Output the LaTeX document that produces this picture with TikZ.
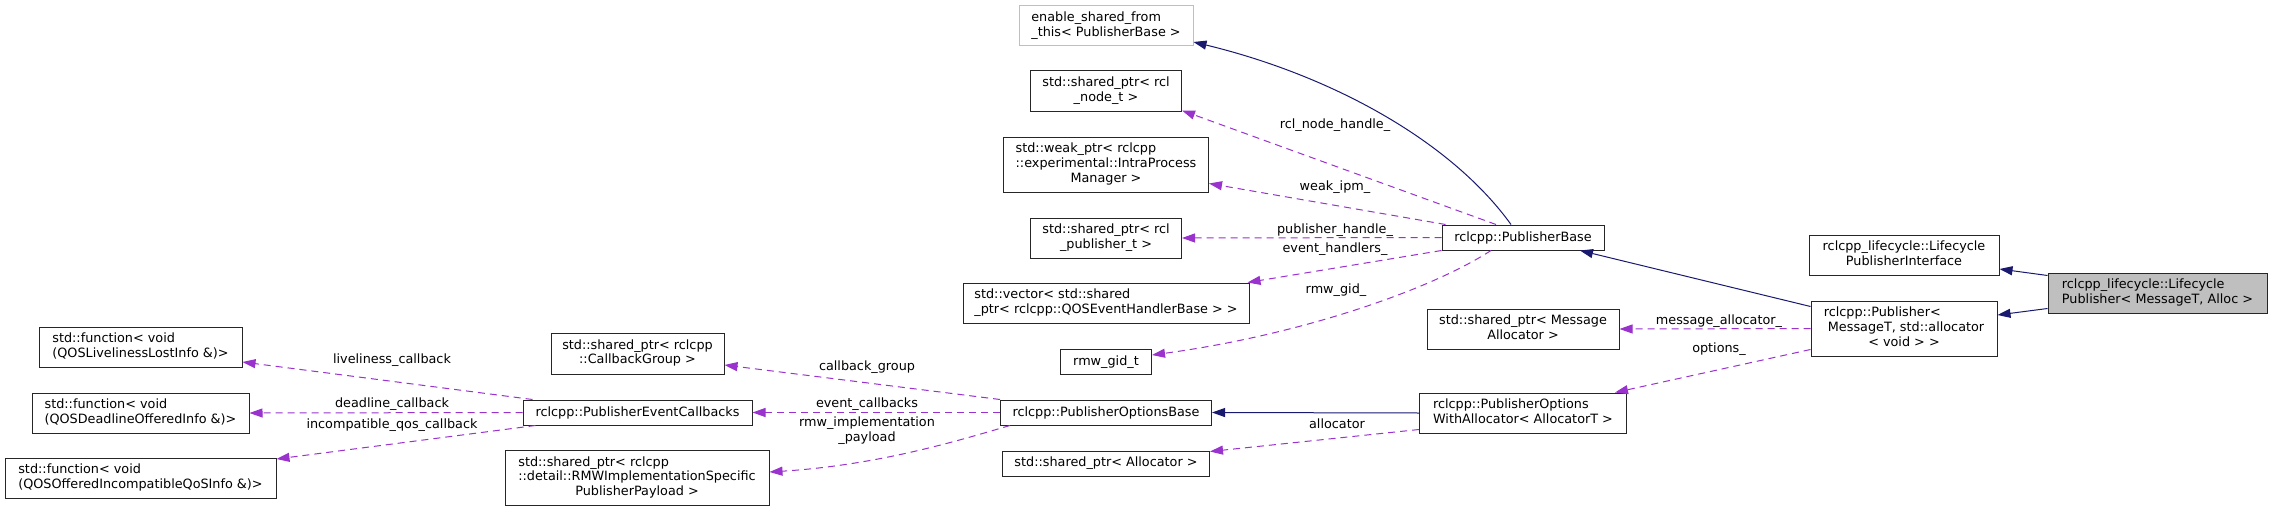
\documentclass[tikz,border=0pt]{standalone}
\usepackage{fontspec}
\setmainfont{DejaVu Sans}
\usetikzlibrary{arrows.meta}
\definecolor{inh}{HTML}{191970}
\definecolor{use}{HTML}{9A32CD}
\definecolor{gry}{HTML}{BFBFBF}
\newcommand{\twol}[2]{\begin{tabular}{@{}l@{}}#1\\\multicolumn{1}{@{}c@{}}{#2}\end{tabular}}
\newcommand{\threel}[3]{\begin{tabular}{@{}l@{}}#1\\#2\\\multicolumn{1}{@{}c@{}}{#3}\end{tabular}}
\newcommand{\twoc}[2]{\begin{tabular}{@{}c@{}}#1\\#2\end{tabular}}
\tikzset{
  box/.style={draw=black!85, line width=1pt, fill=white, inner sep=0pt, rectangle,
    font=\fontsize{12.8}{14.6}\selectfont, text=black},
  lbl/.style={inner sep=0pt, font=\fontsize{12.8}{14.6}\selectfont, text=black},
  inhedge/.style={draw=inh, line width=1pt, -{Triangle[length=13pt,width=9pt]}},
  useedge/.style={draw=use, line width=1pt, dash pattern=on 7pt off 5pt,
    -{Triangle[length=13pt,width=9pt,fill=use]}},
}
\begin{document}
\begin{tikzpicture}[x=1pt,y=-1pt]
\useasboundingbox (0,0) rectangle (2272,511);
% column D
\node[box, draw=gry, minimum width=174pt, minimum height=40pt] (enable) at (1106,26) {\twol{enable\_shared\_from}{\_this< PublisherBase >}};
\node[box, minimum width=151pt, minimum height=40pt] (rclnode) at (1106,91) {\twol{std::shared\_ptr< rcl}{\_node\_t >}};
\node[box, minimum width=205pt, minimum height=55pt] (weak) at (1106,164.5) {\threel{std::weak\_ptr< rclcpp}{::experimental::IntraProcess}{Manager >}};
\node[box, minimum width=151pt, minimum height=40pt] (rclpub) at (1106,238) {\twol{std::shared\_ptr< rcl}{\_publisher\_t >}};
\node[box, minimum width=286pt, minimum height=40pt] (vec) at (1106,303) {\twol{std::vector< std::shared}{\_ptr< rclcpp::QOSEventHandlerBase > >}};
\node[box, minimum width=91pt, minimum height=25pt] (gid) at (1106,362) {rmw\_gid\_t};
\node[box, minimum width=211pt, minimum height=25pt] (pob) at (1106,412.5) {rclcpp::PublisherOptionsBase};
\node[box, minimum width=207pt, minimum height=25pt] (alloc) at (1106,463.5) {std::shared\_ptr< Allocator >};
% column C
\node[box, minimum width=162pt, minimum height=25pt] (pb) at (1523,237.5) {rclcpp::PublisherBase};
\node[box, minimum width=192pt, minimum height=40pt] (msgalloc) at (1523,329) {\twol{std::shared\_ptr< Message}{Allocator >}};
\node[box, minimum width=207pt, minimum height=40pt] (pow) at (1523,413) {\twol{rclcpp::PublisherOptions}{WithAllocator< AllocatorT >}};
% column B
\node[box, minimum width=190pt, minimum height=40pt] (lpi) at (1904,255) {\twol{rclcpp\_lifecycle::Lifecycle}{PublisherInterface}};
\node[box, minimum width=186pt, minimum height=55pt] (pub) at (1904,328.5) {\threel{rclcpp::Publisher<}{\ MessageT, std::allocator}{< void > >}};
% column A
\node[box, fill=gry, minimum width=219pt, minimum height=40pt] (lp) at (2157.5,293) {\twol{rclcpp\_lifecycle::Lifecycle}{Publisher< MessageT, Alloc >}};
% column E
\node[box, minimum width=173pt, minimum height=41pt] (cbg) at (637.5,353.5) {\twol{std::shared\_ptr< rclcpp}{::CallbackGroup >}};
\node[box, minimum width=229pt, minimum height=25pt] (pec) at (637.5,412.5) {rclcpp::PublisherEventCallbacks};
\node[box, minimum width=264pt, minimum height=55pt] (payload) at (637,478) {\threel{std::shared\_ptr< rclcpp}{::detail::RMWImplementationSpecific}{PublisherPayload >}};
% column F
\node[box, minimum width=203pt, minimum height=40pt] (fliv) at (140.5,347) {\twol{std::function< void}{(QOSLivelinessLostInfo \&)>}};
\node[box, minimum width=217pt, minimum height=40pt] (fdead) at (140.5,413) {\twol{std::function< void}{(QOSDeadlineOfferedInfo \&)>}};
\node[box, minimum width=271pt, minimum height=40pt] (fincomp) at (140.5,478) {\twol{std::function< void}{(QOSOfferedIncompatibleQoSInfo \&)>}};
% edges
\draw[inhedge] ([yshift=-3pt]lp.north west) -- ([yshift=-14pt]lpi.east);
\draw[inhedge] ([yshift=5pt]lp.south west) -- ([yshift=13.5pt]pub.east);
\draw[inhedge] ([yshift=-6pt]pub.north west) -- ([xshift=57pt]pb.south);
\draw[useedge] (pub.west) -- (msgalloc.east);
\draw[useedge] ([yshift=7pt]pub.south west) -- ([xshift=92pt]pow.north);
\draw[inhedge] ([xshift=-12pt]pb.north) .. controls (1450,140) and (1330,75) .. ([yshift=-16pt]enable.east);
\draw[useedge] ([xshift=-27pt]pb.north) -- ([yshift=1pt]rclnode.south east);
\draw[useedge] ([xshift=4pt]pb.north west) -- ([yshift=9pt]weak.south east);
\draw[useedge] (pb.west) -- (rclpub.east);
\draw[useedge] (pb.south west) -- ([xshift=-2pt]vec.north east);
\draw[useedge] ([xshift=-32pt]pb.south) .. controls (1430,290) and (1300,335) .. ([yshift=7pt]gid.east);
\draw[inhedge] (pow.west) -- (pob.east);
\draw[useedge] ([yshift=4pt]pow.south west) -- ([yshift=-1pt]alloc.north east);
\draw[useedge] (pob.north west) -- ([yshift=-11.5pt]cbg.east);
\draw[useedge] (pob.west) -- (pec.east);
\draw[useedge] ([xshift=10pt]pob.south west) .. controls (960,440) and (880,465) .. ([yshift=6pt]payload.east);
\draw[useedge] ([xshift=10pt]pec.north west) -- ([yshift=-15pt]fliv.east);
\draw[useedge] (pec.west) -- (fdead.east);
\draw[useedge] ([xshift=13pt]pec.south west) -- ([yshift=19pt]fincomp.east);
% edge labels
\node[lbl] (lma) at (1719,321) {message\_allocator\_};
\node[lbl] (lopt) at (1719,349) {options\_};
\node[lbl] (lrnh) at (1335,125) {rcl\_node\_handle\_};
\node[lbl] (lwi) at (1335,187) {weak\_ipm\_};
\node[lbl] (lph) at (1335,230) {publisher\_handle\_};
\node[lbl] (leh) at (1335,249) {event\_handlers\_};
\node[lbl] (lrg) at (1336,290) {rmw\_gid\_};
\node[lbl] (lal) at (1337,424) {allocator};
\node[lbl] (lcg) at (867,367) {callback\_group};
\node[lbl] (lec) at (867,404) {event\_callbacks};
\node[lbl] (lri) at (867,431) {\twoc{rmw\_implementation}{\_payload}};
\node[lbl] (llc) at (392,360) {liveliness\_callback};
\node[lbl] (ldc) at (392,404) {deadline\_callback};
\node[lbl] (liq) at (392,425) {incompatible\_qos\_callback};
\end{tikzpicture}
\end{document}
